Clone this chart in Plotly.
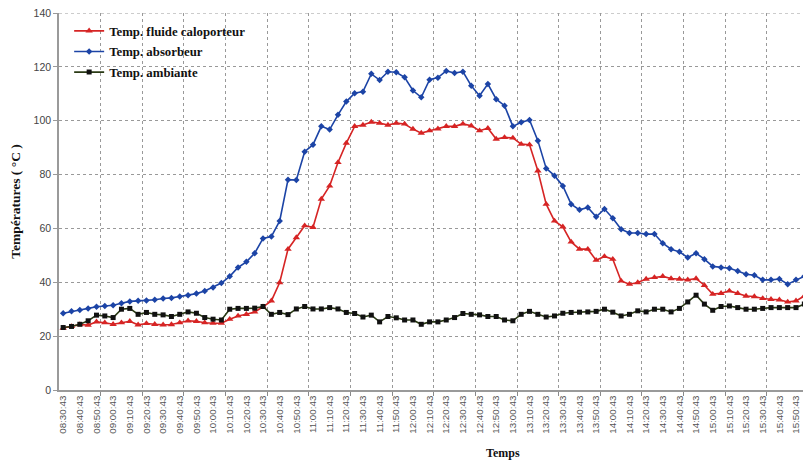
import plotly.graph_objects as go

times = [
    "08:30:43", "08:35:43", "08:40:43", "08:45:43", "08:50:43", "08:55:43", "09:00:43", "09:05:43",
    "09:10:43", "09:15:43", "09:20:43", "09:25:43", "09:30:43", "09:35:43", "09:40:43", "09:45:43",
    "09:50:43", "09:55:43", "10:00:43", "10:05:43", "10:10:43", "10:15:43", "10:20:43", "10:25:43",
    "10:30:43", "10:35:43", "10:40:43", "10:45:43", "10:50:43", "10:55:43", "11:00:43", "11:05:43",
    "11:10:43", "11:15:43", "11:20:43", "11:25:43", "11:30:43", "11:35:43", "11:40:43", "11:45:43",
    "11:50:43", "11:55:43", "12:00:43", "12:05:43", "12:10:43", "12:15:43", "12:20:43", "12:25:43",
    "12:30:43", "12:35:43", "12:40:43", "12:45:43", "12:50:43", "12:55:43", "13:00:43", "13:05:43",
    "13:10:43", "13:15:43", "13:20:43", "13:25:43", "13:30:43", "13:35:43", "13:40:43", "13:45:43",
    "13:50:43", "13:55:43", "14:00:43", "14:05:43", "14:10:43", "14:15:43", "14:20:43", "14:25:43",
    "14:30:43", "14:35:43", "14:40:43", "14:45:43", "14:50:43", "14:55:43", "15:00:43", "15:05:43",
    "15:10:43", "15:15:43", "15:20:43", "15:25:43", "15:30:43", "15:35:43", "15:40:43", "15:45:43",
    "15:50:43", "15:55:43", "16:00:43",
]

tick_labels = [
    "08:30:43", "08:40:43", "08:50:43", "09:00:43", "09:10:43", "09:20:43", "09:30:43", "09:40:43",
    "09:50:43", "10:00:43", "10:10:43", "10:20:43", "10:30:43", "10:40:43", "10:50:43", "11:00:43",
    "11:10:43", "11:20:43", "11:30:43", "11:40:43", "11:50:43", "12:00:43", "12:10:43", "12:20:43",
    "12:30:43", "12:40:43", "12:50:43", "13:00:43", "13:10:43", "13:20:43", "13:30:43", "13:40:43",
    "13:50:43", "14:00:43", "14:10:43", "14:20:43", "14:30:43", "14:40:43", "14:50:43", "15:00:43",
    "15:10:43", "15:20:43", "15:30:43", "15:40:43", "15:50:43", "16:00:43",
]

fluide = [
    23.0, 23.6, 24.3, 24.1, 25.3, 25.0, 24.4, 25.0, 25.5, 24.2, 24.7, 24.4, 24.2, 24.3, 25.0, 25.7,
    25.5, 25.0, 24.8, 24.8, 26.3, 27.5, 28.1, 29.0, 30.9, 33.1, 39.9, 52.3, 56.6, 61.0, 60.4, 70.9,
    75.8, 84.5, 91.7, 97.9, 98.4, 99.5, 99.1, 98.4, 99.1, 98.8, 96.9, 95.4, 96.3, 97.0, 97.9, 97.9,
    98.8, 98.1, 96.3, 97.2, 93.2, 93.8, 93.6, 91.3, 91.1, 81.4, 69.0, 62.8, 60.6, 55.0, 52.3, 52.3,
    48.2, 49.6, 48.6, 40.5, 39.3, 39.9, 41.2, 41.8, 42.2, 41.4, 41.2, 40.9, 41.4, 38.9, 35.6, 35.9,
    36.8, 35.9, 34.9, 34.7, 34.0, 33.7, 33.5, 32.7, 33.1, 34.9, 35.0,
]

absorbeur = [
    28.5, 29.2, 29.7, 30.3, 30.9, 31.2, 31.5, 32.2, 32.9, 33.1, 33.2, 33.5, 34.0, 34.2, 34.7, 35.2,
    35.8, 36.8, 38.1, 39.7, 42.2, 45.5, 47.6, 50.8, 56.3, 57.0, 62.8, 78.1, 78.0, 88.5, 91.1, 97.9,
    96.7, 102.2, 107.1, 110.2, 110.8, 117.4, 115.1, 118.2, 118.0, 116.1, 111.2, 108.7, 115.2, 116.0,
    118.5, 117.7, 118.2, 113.0, 109.3, 113.6, 108.0, 105.6, 97.9, 99.4, 100.3, 92.6, 82.3, 79.6,
    75.8, 69.0, 66.9, 67.8, 64.3, 67.2, 63.8, 59.7, 58.3, 58.3, 57.9, 57.9, 54.5, 52.3, 51.3, 49.2,
    50.8, 48.6, 45.9, 45.5, 45.2, 44.2, 43.0, 42.6, 40.9, 40.9, 41.2, 39.3, 40.9, 42.2, 42.0,
]

ambiante = [
    23.2, 23.6, 24.4, 25.7, 27.8, 27.5, 26.9, 30.0, 30.3, 28.1, 28.8, 28.1, 27.9, 27.3, 28.1, 29.0,
    28.5, 26.9, 26.3, 26.0, 30.0, 30.3, 30.3, 30.4, 31.0, 28.1, 28.8, 28.0, 30.1, 31.0, 30.1, 30.1,
    30.6, 30.1, 28.8, 28.4, 27.1, 27.8, 25.3, 27.3, 26.8, 26.0, 26.0, 24.4, 25.3, 25.3, 26.0, 26.9,
    28.4, 28.1, 27.9, 27.3, 27.3, 26.0, 25.7, 28.1, 29.2, 28.1, 27.1, 27.5, 28.5, 28.8, 28.9, 29.0,
    29.2, 30.0, 28.9, 27.5, 28.1, 29.4, 29.0, 30.0, 30.0, 29.0, 30.3, 32.7, 35.2, 31.9, 29.6, 31.0,
    31.2, 30.6, 30.0, 30.0, 30.3, 30.6, 30.6, 30.6, 30.6, 31.9, 31.5,
]

y_ticks = [0, 20, 40, 60, 80, 100, 120, 140]

idx = list(range(len(times)))
label_pos = [times.index(t) for t in tick_labels]
grid_pos = [k - 0.5 for k in range(5, len(times) + 5, 5)]

fig = go.Figure()
fig.add_trace(go.Scatter(
    x=idx, y=fluide, name="<b>Temp. fluide caloporteur</b>", mode="lines+markers",
    legendgroup="a",
    line=dict(color="#d62424", width=1.6),
    marker=dict(symbol="triangle-up", size=6.5, color="#d62424"),
))
fig.add_trace(go.Scatter(
    x=idx, y=absorbeur, name="<b>Temp. absorbeur</b>", mode="lines+markers",
    legendgroup="b",
    line=dict(color="#1c44a6", width=1.6),
    marker=dict(symbol="diamond", size=5, color="#1c44a6"),
))
fig.add_trace(go.Scatter(
    x=idx, y=ambiante, name="<b>Temp. ambiante</b>", mode="lines+markers",
    legendgroup="c",
    line=dict(color="#2a3a14", width=1.6),
    marker=dict(symbol="square", size=5, color="#111111"),
))

grid_col = "#999999"

fig.update_layout(
    width=803, height=456,
    margin=dict(l=51, r=0, t=5, b=74, autoexpand=False),
    paper_bgcolor="white", plot_bgcolor="white",
    showlegend=True,
    legend=dict(
        x=0.0135, y=0.992, xanchor="left", yanchor="top",
        bgcolor="rgba(0,0,0,0)",
        font=dict(family="Liberation Serif", size=12.8, color="#111111"),
        itemwidth=30, tracegroupgap=1,
    ),
    xaxis=dict(
        range=[-0.5, 89.8], automargin=False,
        tickmode="array", tickvals=label_pos, ticktext=tick_labels,
        tickangle=-90,
        tickfont=dict(family="Liberation Sans", size=9.8, color="#555555"),
        showgrid=False, zeroline=False,
        showline=True, linecolor="#9a9a9a", linewidth=1.5,
        ticks="",
        minor=dict(
            tickmode="array", tickvals=grid_pos,
            showgrid=True, gridcolor=grid_col, griddash="3px,3px", gridwidth=1,
            ticks="outside", ticklen=4, tickcolor="#8a8a8a",
        ),
    ),
    yaxis=dict(
        range=[0, 140], automargin=False,
        tickmode="array", tickvals=y_ticks,
        ticklabeloverflow="allow",
        tickfont=dict(family="Liberation Sans", size=10.5, color="#444444"),
        showgrid=True, gridcolor=grid_col, griddash="3px,3px", gridwidth=1,
        zeroline=False,
        showline=True, linecolor="#9a9a9a", linewidth=1.5,
        ticks="outside", ticklen=4, tickcolor="#9a9a9a",
        title=dict(text="<b>Températures ( °C )</b>", standoff=11,
                   font=dict(family="Liberation Serif", size=13.5, color="#111111")),
    ),
    shapes=[
        dict(type="line", xref="paper", yref="y", x0=0, x1=1, y0=140, y1=140,
             line=dict(color=grid_col, width=1, dash="3px,3px"), layer="below"),
    ],
    annotations=[
        dict(text="<b>Temps</b>", x=(503 - 59) / 752, y=-0.167, yanchor="middle",
             xref="paper", yref="paper", showarrow=False,
             font=dict(family="Liberation Serif", size=12, color="#111111")),
    ],
)

fig.write_html("out.html")
